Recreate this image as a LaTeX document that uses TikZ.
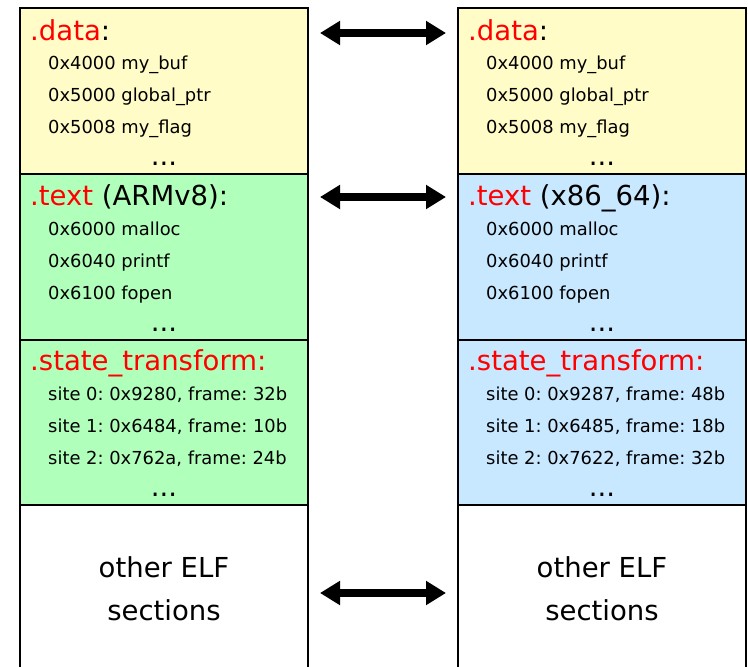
\documentclass[tikz,border=0pt]{standalone}
\usepackage{fontspec}
\setmainfont{DejaVu Sans}
\usetikzlibrary{arrows.meta}
\definecolor{datafill}{RGB}{255,252,200}
\definecolor{armfill}{RGB}{176,255,186}
\definecolor{x86fill}{RGB}{200,232,255}
\definecolor{secred}{RGB}{255,0,0}
\frenchspacing
\begin{document}
\begin{tikzpicture}[x=1pt,y=-1pt,
  section/.style={draw=black, line width=1.6pt, minimum width=288pt,
    anchor=north west, inner sep=0pt, outer sep=0pt},
  heading/.style={anchor=base west, inner sep=0pt, font=\fontsize{27.5}{33}\selectfont},
  entry/.style={anchor=base west, inner sep=0pt, font=\fontsize{17.9}{21}\selectfont},
  more/.style={anchor=base, inner sep=0pt, font=\fontsize{27.5}{33}\selectfont},
  swap/.style={line width=8pt,
    {Triangle[length=20pt,width=23pt]}-{Triangle[length=20pt,width=23pt]}}]
\clip (0,0) rectangle (748,667);
\useasboundingbox (0,0) rectangle (748,667);

% left image: ARMv8
\node[section, fill=datafill, minimum height=166pt] (ldata) at (20,8) {};
\node[section, fill=armfill, minimum height=166pt] (ltext) at (20,174) {};
\node[section, fill=armfill, minimum height=165pt] (lstate) at (20,340) {};
\node[section, fill=white, minimum height=190pt] (lother) at (20,505) {};

% right image: x86_64
\node[section, fill=datafill, minimum height=166pt] (rdata) at (458,8) {};
\node[section, fill=x86fill, minimum height=166pt] (rtext) at (458,174) {};
\node[section, fill=x86fill, minimum height=165pt] (rstate) at (458,340) {};
\node[section, fill=white, minimum height=190pt] (rother) at (458,505) {};

% .data contents
\node[heading] (ldatah) at (30,40) {\textcolor{secred}{.data}:};
\node[entry] (ld1) at (48,69) {0x4000 my\_buf};
\node[entry] (ld2) at (48,101) {0x5000 global\_ptr};
\node[entry] (ld3) at (48,133) {0x5008 my\_flag};
\node[more] (ld4) at (164,165) {...};
\node[heading] (rdatah) at (468,40) {\textcolor{secred}{.data}:};
\node[entry] (rd1) at (486,69) {0x4000 my\_buf};
\node[entry] (rd2) at (486,101) {0x5000 global\_ptr};
\node[entry] (rd3) at (486,133) {0x5008 my\_flag};
\node[more] (rd4) at (602,165) {...};

% .text contents
\node[heading] (ltexth) at (30,205) {\textcolor{secred}{.text} (ARMv8):};
\node[entry] (lt1) at (48,235) {0x6000 malloc};
\node[entry] (lt2) at (48,267) {0x6040 printf};
\node[entry] (lt3) at (48,299) {0x6100 fopen};
\node[more] (lt4) at (164,331) {...};
\node[heading] (rtexth) at (468,205) {\textcolor{secred}{.text} (x86\_64):};
\node[entry] (rt1) at (486,235) {0x6000 malloc};
\node[entry] (rt2) at (486,267) {0x6040 printf};
\node[entry] (rt3) at (486,299) {0x6100 fopen};
\node[more] (rt4) at (602,331) {...};

% .state_transform contents
\node[heading] (lstateh) at (30,370) {\textcolor{secred}{.state\_transform:}};
\node[entry] (ls1) at (48,400) {site 0: 0x9280, frame: 32b};
\node[entry] (ls2) at (48,432) {site 1: 0x6484, frame: 10b};
\node[entry] (ls3) at (48,464) {site 2: 0x762a, frame: 24b};
\node[more] (ls4) at (164,496) {...};
\node[heading] (rstateh) at (468,370) {\textcolor{secred}{.state\_transform:}};
\node[entry] (rs1) at (486,400) {site 0: 0x9287, frame: 48b};
\node[entry] (rs2) at (486,432) {site 1: 0x6485, frame: 18b};
\node[entry] (rs3) at (486,464) {site 2: 0x7622, frame: 32b};
\node[more] (rs4) at (602,496) {...};

% other sections
\node[more] (lo1) at (164,577) {other ELF};
\node[more] (lo2) at (164,620) {sections};
\node[more] (ro1) at (602,577) {other ELF};
\node[more] (ro2) at (602,620) {sections};

% correspondence arrows
\coordinate (a1l) at (320,33);  \coordinate (a1r) at (446,33);
\coordinate (a2l) at (320,197); \coordinate (a2r) at (446,197);
\coordinate (a3l) at (320,593); \coordinate (a3r) at (446,593);
\draw[swap] (a1l) -- (a1r);
\draw[swap] (a2l) -- (a2r);
\draw[swap] (a3l) -- (a3r);
\end{tikzpicture}
\end{document}
